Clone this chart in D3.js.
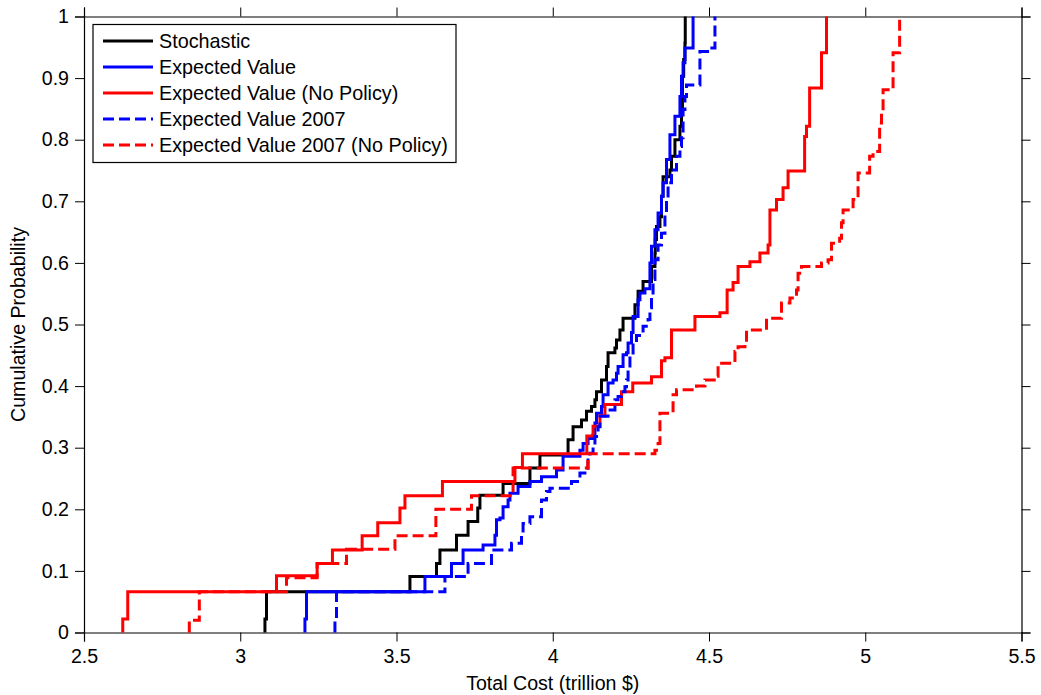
<!DOCTYPE html>
<meta charset="utf-8">
<style>
body { margin: 0; background: #fff; }
svg text { font-family: "Liberation Sans", Arial, sans-serif; fill: #000; }
.tick-label { font-size: 19.6px; }
.axis-label { font-size: 19.6px; }
.legend text { font-size: 19.8px; }
</style>
<svg width="1041" height="695"></svg>
<script src="https://cdn.jsdelivr.net/npm/d3@7"></script>
<script>

// series names, in legend / drawing order
var seriesNames = ["Stochastic", "Expected Value", "Expected Value (No Policy)",
                   "Expected Value 2007", "Expected Value 2007 (No Policy)"];
var seriesColors = ["#000000", "#0000ff", "#ff0000", "#0000ff", "#ff0000"];
var seriesDash = [null, null, null, "11,5", "11,5"];

// step positions (total cost, trillion $) and cumulative probability after each step
var stochasticX = [3.079, 3.084, 3.543, 3.628, 3.639, 3.692, 3.729, 3.760, 3.767, 3.841,
  3.927, 3.959, 4.049, 4.065, 4.092, 4.108, 4.124, 4.135, 4.140, 4.156, 4.172, 4.177,
  4.199, 4.204, 4.215, 4.225, 4.263, 4.273, 4.289, 4.316, 4.327, 4.328, 4.332, 4.343,
  4.348, 4.353, 4.375, 4.380, 4.391, 4.407, 4.412, 4.415, 4.419, 4.423, 4.424];
var stochasticP = [0.022, 0.066, 0.091, 0.112, 0.134, 0.158, 0.180, 0.202, 0.223, 0.242,
  0.267, 0.288, 0.313, 0.334, 0.345, 0.359, 0.367, 0.378, 0.391, 0.410, 0.432, 0.454,
  0.462, 0.475, 0.491, 0.510, 0.532, 0.554, 0.570, 0.594, 0.616, 0.638, 0.659, 0.675,
  0.708, 0.740, 0.751, 0.773, 0.800, 0.822, 0.852, 0.903, 0.930, 0.957, 1.0];

var evX = [3.207, 3.212, 3.591, 3.676, 3.713, 3.777, 3.815, 3.820, 3.831, 3.841, 3.857,
  3.863, 3.889, 3.927, 3.964, 4.012, 4.033, 4.087, 4.097, 4.113, 4.129, 4.135, 4.140,
  4.156, 4.161, 4.177, 4.193, 4.204, 4.209, 4.225, 4.236, 4.241, 4.252, 4.257, 4.273,
  4.279, 4.295, 4.311, 4.316, 4.327, 4.337, 4.348, 4.353, 4.364, 4.375, 4.391, 4.407,
  4.412, 4.417, 4.423, 4.449];
var evP = [0.022, 0.066, 0.091, 0.112, 0.134, 0.142, 0.158, 0.183, 0.186, 0.204, 0.215,
  0.226, 0.237, 0.245, 0.253, 0.264, 0.286, 0.296, 0.307, 0.315, 0.321, 0.340, 0.356,
  0.367, 0.386, 0.405, 0.410, 0.421, 0.432, 0.451, 0.454, 0.470, 0.487, 0.513, 0.540,
  0.551, 0.558, 0.600, 0.627, 0.654, 0.681, 0.708, 0.730, 0.768, 0.808, 0.838, 0.870,
  0.903, 0.925, 0.949, 1.0];

var evNoPolicyX = [2.624, 2.640, 3.116, 3.246, 3.295, 3.390, 3.440, 3.511, 3.527, 3.647,
  3.879, 3.903, 4.109, 4.129, 4.151, 4.167, 4.220, 4.256, 4.316, 4.348, 4.359, 4.380,
  4.455, 4.535, 4.558, 4.577, 4.593, 4.631, 4.663, 4.689, 4.695, 4.716, 4.737, 4.753,
  4.806, 4.812, 4.822, 4.860, 4.876];
var evNoPolicyP = [0.022, 0.066, 0.092, 0.112, 0.134, 0.157, 0.178, 0.202, 0.222, 0.245,
  0.268, 0.290, 0.319, 0.335, 0.352, 0.370, 0.391, 0.405, 0.415, 0.441, 0.446, 0.491,
  0.513, 0.519, 0.556, 0.568, 0.594, 0.602, 0.616, 0.629, 0.686, 0.703, 0.722, 0.749,
  0.805, 0.822, 0.884, 0.941, 1.0];

var ev2007X = [3.303, 3.308, 3.655, 3.729, 3.804, 3.868, 3.900, 3.905, 3.927, 3.964,
  3.980, 3.991, 4.060, 4.087, 4.113, 4.119, 4.129, 4.135, 4.145, 4.151, 4.177, 4.199,
  4.209, 4.220, 4.231, 4.236, 4.241, 4.247, 4.257, 4.268, 4.289, 4.305, 4.311, 4.316,
  4.321, 4.327, 4.337, 4.348, 4.359, 4.364, 4.369, 4.380, 4.396, 4.407, 4.412, 4.417,
  4.423, 4.428, 4.471, 4.503, 4.519];
var ev2007P = [0.019, 0.066, 0.091, 0.112, 0.134, 0.145, 0.161, 0.177, 0.188, 0.215,
  0.229, 0.234, 0.245, 0.259, 0.280, 0.291, 0.302, 0.318, 0.334, 0.351, 0.361, 0.378,
  0.383, 0.391, 0.399, 0.410, 0.426, 0.451, 0.470, 0.482, 0.497, 0.508, 0.527, 0.548,
  0.573, 0.605, 0.629, 0.648, 0.678, 0.703, 0.730, 0.751, 0.773, 0.789, 0.803, 0.849,
  0.870, 0.889, 0.943, 0.949, 1.0];

var ev2007NoPolicyX = [2.837, 2.869, 3.148, 3.246, 3.340, 3.495, 3.626, 3.740, 3.873,
  4.112, 4.327, 4.337, 4.343, 4.385, 4.396, 4.460, 4.487, 4.524, 4.529, 4.583, 4.593,
  4.615, 4.620, 4.684, 4.732, 4.759, 4.780, 4.785, 4.796, 4.860, 4.881, 4.892, 4.918,
  4.924, 4.929, 4.961, 4.977, 5.014, 5.025, 5.046, 5.052, 5.057, 5.089, 5.110];
var ev2007NoPolicyP = [0.020, 0.066, 0.089, 0.112, 0.135, 0.157, 0.200, 0.222, 0.267,
  0.290, 0.296, 0.307, 0.356, 0.386, 0.394, 0.400, 0.410, 0.416, 0.437, 0.456, 0.464,
  0.470, 0.491, 0.510, 0.535, 0.543, 0.556, 0.583, 0.594, 0.600, 0.605, 0.632, 0.640,
  0.665, 0.686, 0.703, 0.746, 0.773, 0.781, 0.827, 0.846, 0.881, 0.941, 1.0];

var xTicks = [2.5, 3, 3.5, 4, 4.5, 5, 5.5];
var xTickLabels = ["2.5", "3", "3.5", "4", "4.5", "5", "5.5"];
var yTicks = [0, 0.1, 0.2, 0.3, 0.4, 0.5, 0.6, 0.7, 0.8, 0.9, 1];
var yTickLabels = ["0", "0.1", "0.2", "0.3", "0.4", "0.5", "0.6", "0.7", "0.8", "0.9", "1"];

var seriesX = [stochasticX, evX, evNoPolicyX, ev2007X, ev2007NoPolicyX];
var seriesP = [stochasticP, evP, evNoPolicyP, ev2007P, ev2007NoPolicyP];

var svg = d3.select("svg"),
    margin = {top: 16.5, right: 19.5, bottom: 62.5, left: 84},
    width = +svg.attr("width") - margin.left - margin.right,
    height = +svg.attr("height") - margin.top - margin.bottom;

var x = d3.scaleLinear().domain([2.5, 5.5]).range([0, width]),
    y = d3.scaleLinear().domain([0, 1]).range([height, 0]);

var g = svg.append("g")
    .attr("transform", "translate(" + margin.left + "," + margin.top + ")");

// axes, ticks pointing out on all four sides (box on)
function styleAxis(sel) {
  sel.selectAll("path").attr("stroke", "#000").attr("stroke-width", 1.2);
  sel.selectAll("line").attr("stroke", "#000").attr("stroke-width", 1);
  sel.selectAll("text").attr("class", "tick-label")
      .attr("font-family", null).attr("fill", "#000");
  sel.attr("font-size", null).attr("font-family", null);
}

g.append("g")
    .attr("transform", "translate(0," + height + ")")
    .call(d3.axisBottom(x).tickValues(xTicks).tickSize(9).tickPadding(8)
      .tickFormat(function(d, i) { return xTickLabels[i]; }))
    .call(styleAxis);

g.append("g")
    .call(d3.axisTop(x).tickValues(xTicks).tickSize(9).tickFormat(""))
    .call(styleAxis);

g.append("g")
    .call(d3.axisLeft(y).tickValues(yTicks).tickSize(9).tickPadding(6)
      .tickFormat(function(d, i) { return yTickLabels[i]; }))
    .call(styleAxis);

g.append("g")
    .attr("transform", "translate(" + width + ",0)")
    .call(d3.axisRight(y).tickValues(yTicks).tickSize(9).tickFormat(""))
    .call(styleAxis);

// axis titles
g.append("text")
    .attr("class", "axis-label")
    .attr("x", width / 2)
    .attr("y", height + 57)
    .attr("text-anchor", "middle")
    .text("Total Cost (trillion $)");

g.append("text")
    .attr("class", "axis-label")
    .attr("transform", "rotate(-90)")
    .attr("x", -height / 2)
    .attr("y", -59)
    .attr("text-anchor", "middle")
    .text("Cumulative Probability");

// empirical CDF step lines
var line = d3.line()
    .x(function(d) { return x(d[0]); })
    .y(function(d) { return y(d[1]); })
    .curve(d3.curveStepAfter);

var lineData = seriesX.map(function(xs, s) {
  var pts = [[xs[0], 0]];
  for (var i = 0; i < xs.length; i++) pts.push([xs[i], seriesP[s][i]]);
  return pts;
});

g.selectAll(".cdf")
  .data(lineData)
  .enter().append("path")
    .attr("class", "cdf")
    .attr("fill", "none")
    .attr("stroke", function(d, i) { return seriesColors[i]; })
    .attr("stroke-width", 3)
    .attr("stroke-dasharray", function(d, i) { return seriesDash[i]; })
    .attr("stroke-linejoin", "miter")
    .attr("d", line);

// legend
var legend = svg.append("g")
    .attr("class", "legend")
    .attr("transform", "translate(93,24.5)");

legend.append("rect")
    .attr("width", 363)
    .attr("height", 138)
    .attr("fill", "#fff")
    .attr("stroke", "#000")
    .attr("stroke-width", 1.2);

var item = legend.selectAll(".item")
  .data(seriesNames)
  .enter().append("g")
    .attr("class", "item")
    .attr("transform", function(d, i) { return "translate(0," + (16.5 + i * 26) + ")"; });

item.append("line")
    .attr("x1", 10).attr("x2", 60)
    .attr("stroke", function(d, i) { return seriesColors[i]; })
    .attr("stroke-width", 3)
    .attr("stroke-dasharray", function(d, i) { return seriesDash[i]; });

item.append("text")
    .attr("x", 66)
    .attr("dy", "0.35em")
    .text(function(d) { return d; });

</script>
